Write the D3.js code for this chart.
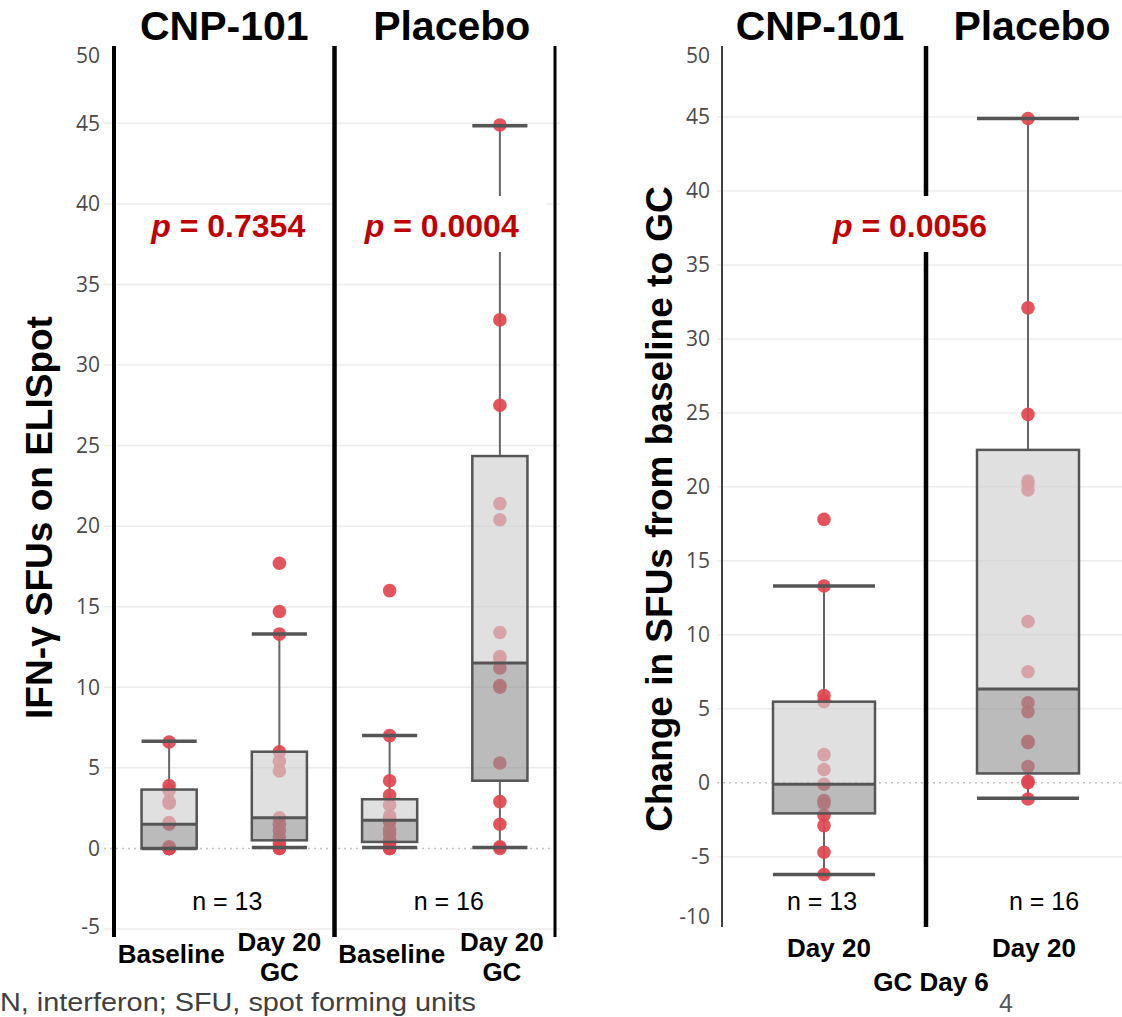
<!DOCTYPE html>
<html>
<head>
<meta charset="utf-8">
<script src="https://cdn.jsdelivr.net/npm/d3@7"></script>
<style>
  body { margin: 0; background: #fff; }
  svg { display: block; font-family: "Liberation Sans", Arial, sans-serif; }
</style>
</head>
<body>
<script>
const W = 1122, H = 1017;
const pointColor = '#e0474f';
const lightFill = 'rgb(208,208,208)'; // q3 -> median
const darkFill = 'rgb(147,147,147)';  // median -> q1
const boxStroke = '#555';

// ---- left chart: SFUs by visit ----
const leftGroups = ['CNP-101', 'Placebo'];
const leftCats = ['cnp_base', 'cnp_d20', 'pbo_base', 'pbo_d20'];
const leftCatLabels = [['Baseline'], ['Day 20', 'GC'], ['Baseline'], ['Day 20', 'GC']];
// [low whisker, q1, median, q3, high whisker]
const leftBoxes = [
  [0, 0, 1.5, 3.65, 6.65],
  [0.05, 0.5, 1.9, 6.0, 13.3],
  [0.05, 0.4, 1.75, 3.05, 7.0],
  [0.05, 4.2, 11.5, 24.35, 44.85]
];
const leftPoints = [
  [6.6, 3.9, 3.6, 2.9, 2.8, 1.6, 1.5, 0.1, 0, 0, 0, 0, 0],
  [17.7, 14.7, 13.3, 6.0, 5.4, 4.8, 1.9, 1.5, 1.1, 0.7, 0.3, 0, 0],
  [16.0, 7.0, 4.2, 3.3, 2.7, 2.0, 1.9, 1.7, 1.7, 1.2, 0.9, 0.5, 0.3, 0, 0, 0],
  [44.9, 32.8, 27.5, 21.4, 20.4, 13.4, 11.9, 11.8, 11.2, 10.1, 10.0, 5.3, 2.9, 1.5, 0.1, 0]
];
const leftN = ['n = 13', 'n = 16'];
const leftP = ['0.7354', '0.0004'];
const leftPBg = [false, true];
const leftTicks = [-5, 0, 5, 10, 15, 20, 25, 30, 35, 40, 45, 50];
const leftTitle = 'IFN-γ SFUs on ELISpot';

// ---- right chart: change from baseline ----
const rightGroups = ['CNP-101', 'Placebo'];
const rightCats = ['cnp_d20', 'pbo_d20'];
const rightCatLabels = [['Day 20'], ['Day 20']];
const rightBoxes = [
  [-6.2, -2.07, -0.1, 5.48, 13.3],
  [-1.05, 0.63, 6.34, 22.5, 44.9]
];
const rightPoints = [
  [17.8, 13.3, 5.9, 5.5, 1.9, 0.9, -0.1, -1.2, -1.4, -2.2, -2.9, -4.7, -6.2],
  [44.9, 32.1, 24.9, 20.4, 20.2, 19.8, 10.9, 7.5, 5.4, 4.8, 2.8, 2.7, 1.1, 0.1, 0.0, -1.1]
];
const rightN = ['n = 13', 'n = 16'];
const rightP = '0.0056';
const rightTicks = [-10, -5, 0, 5, 10, 15, 20, 25, 30, 35, 40, 45, 50];
const rightTitle = 'Change in SFUs from baseline to GC';
const rightXTitle = 'GC Day 6';

const footnote = 'N, interferon; SFU, spot forming units';
const pageNo = '4';

const svg = d3.select('body').append('svg').attr('width', W).attr('height', H);
svg.append('rect').attr('width', W).attr('height', H).attr('fill', '#fff');

// layout of plot areas
const plotTop = 46;
const L = { x0: 114, x1: 555, bottom: 937, gridX0: 104, gridX1: 560 };
const R = { x0: 722, x1: 1130, bottom: 927, gridX0: 717, gridX1: 1122 };

const yL = d3.scaleLinear().domain([-5.5, 49.8]).range([L.bottom, plotTop]);
const yR = d3.scaleLinear().domain([-9.75, 49.8]).range([R.bottom, plotTop]);
const xL = d3.scaleBand().domain(leftCats).range([L.x0, L.x1]);
const xR = d3.scaleBand().domain(rightCats).range([R.x0, R.x1]);

function gridAndTicks(y, ticks, area, labelX) {
  const g = svg.append('g');
  ticks.filter(t => t !== 0 && y(t) >= plotTop && y(t) <= area.bottom + 3).forEach(t => {
    g.append('line').attr('x1', area.gridX0).attr('x2', area.gridX1)
      .attr('y1', y(t)).attr('y2', y(t))
      .attr('stroke', '#ececec').attr('stroke-width', 1.5);
  });
  // dotted zero line
  g.append('line').attr('x1', area.gridX0).attr('x2', area.gridX1)
    .attr('y1', y(0)).attr('y2', y(0))
    .attr('stroke', '#c4c4c4').attr('stroke-width', 1.5).attr('stroke-dasharray', '2,4');
  // tick labels, kept inside the plot area like the original
  ticks.forEach(t => {
    const ty = Math.max(plotTop + 10, Math.min(area.bottom - 10, y(t)));
    g.append('text').attr('x', labelX).attr('y', ty)
      .attr('dy', '0.35em').attr('text-anchor', 'end')
      .style('font-family', '"Open Sans", sans-serif')
      .style('font-size', '21px').attr('fill', '#4a4a4a')
      .text(t);
  });
}

function drawBoxes(x, y, cats, boxes, points) {
  const g = svg.append('g');
  const bw = x.bandwidth() * 0.5;
  cats.forEach((c, i) => {
    const cx = x(c) + x.bandwidth() / 2;
    const [lo, q1, med, q3, hi] = boxes[i];
    // whisker stems
    g.append('line').attr('x1', cx).attr('x2', cx).attr('y1', y(q3)).attr('y2', y(hi))
      .attr('stroke', '#666').attr('stroke-width', 2);
    g.append('line').attr('x1', cx).attr('x2', cx).attr('y1', y(q1)).attr('y2', y(lo))
      .attr('stroke', '#666').attr('stroke-width', 2);
    // points
    g.selectAll(null).data(points[i]).join('circle')
      .attr('cx', cx).attr('cy', d => y(d)).attr('r', 6.8)
      .attr('fill', pointColor).attr('fill-opacity', 0.92);
    // box halves
    g.append('rect').attr('x', cx - bw / 2).attr('width', bw)
      .attr('y', y(q3)).attr('height', y(med) - y(q3))
      .attr('fill', lightFill).attr('fill-opacity', 0.65);
    g.append('rect').attr('x', cx - bw / 2).attr('width', bw)
      .attr('y', y(med)).attr('height', y(q1) - y(med))
      .attr('fill', darkFill).attr('fill-opacity', 0.63);
    g.append('rect').attr('x', cx - bw / 2).attr('width', bw)
      .attr('y', y(q3)).attr('height', y(q1) - y(q3))
      .attr('fill', 'none').attr('stroke', boxStroke).attr('stroke-width', 2.5);
    // median and caps
    [med, lo, hi].forEach((v, k) => {
      g.append('line').attr('x1', cx - bw / 2).attr('x2', cx + bw / 2)
        .attr('y1', y(v)).attr('y2', y(v))
        .attr('stroke', boxStroke).attr('stroke-width', k === 0 ? 3 : 3.5);
    });
  });
}

function vline(x, y1, y2, w) {
  svg.append('line').attr('x1', x).attr('x2', x).attr('y1', y1).attr('y2', y2)
    .attr('stroke', '#000').attr('stroke-width', w);
}

function pLabel(cx, baseline, value, bg) {
  const g = svg.append('g');
  const t = g.append('text').attr('x', cx).attr('y', baseline).attr('text-anchor', 'middle')
    .style('font-size', '32px').style('font-weight', 'bold').attr('fill', '#c00000');
  t.append('tspan').style('font-style', 'italic').text('p');
  t.append('tspan').text(' = ' + value);
  if (bg) {
    const b = t.node().getBBox();
    g.insert('rect', 'text').attr('x', b.x - 28).attr('y', b.y - 12)
      .attr('width', b.width + 56).attr('height', b.height + 20).attr('fill', '#fff');
  }
}

function catLabels(x, cats, labels, nudges, firstBaseline) {
  cats.forEach((c, i) => {
    const cx = x(c) + x.bandwidth() / 2 + nudges[i];
    const lines = labels[i];
    const y0 = lines.length > 1 ? firstBaseline - 12 : firstBaseline;
    lines.forEach((s, k) => {
      svg.append('text').attr('text-anchor', 'middle')
        .style('font-size', '26px').style('font-weight', 'bold').attr('fill', '#000')
        .attr('x', cx).attr('y', y0 + k * 30).text(s);
    });
  });
}

// ---------- left chart ----------
gridAndTicks(yL, leftTicks, L, 100);
drawBoxes(xL, yL, leftCats, leftBoxes, leftPoints);
const lBounds = [L.x0, xL(leftCats[2]), L.x1];

leftGroups.forEach((name, i) => {
  const gc = (lBounds[i] + lBounds[i + 1]) / 2;
  svg.append('text').attr('x', gc + (i ? 7 : 0)).attr('y', 40).attr('text-anchor', 'middle')
    .style('font-size', '41px').style('font-weight', 'bold').text(name);
  pLabel(gc + (i ? -3 : 4), 237, leftP[i], leftPBg[i]);
  svg.append('text').attr('x', gc + (i ? 4 : 3)).attr('y', 910).attr('text-anchor', 'middle')
    .style('font-size', '25px').text(leftN[i]);
});
// panel borders drawn over the p-value backgrounds
vline(lBounds[0], plotTop, L.bottom, 4);
vline(lBounds[1], plotTop, L.bottom, 4.5);
vline(lBounds[2], plotTop, L.bottom, 3);
catLabels(xL, leftCats, leftCatLabels, [2, 0, 2, 2], 963);

svg.append('text').attr('transform', `translate(52,${(plotTop + L.bottom) / 2 + 26}) rotate(-90)`)
  .attr('text-anchor', 'middle').style('font-size', '37px').style('font-weight', 'bold')
  .text(leftTitle);

// ---------- right chart ----------
gridAndTicks(yR, rightTicks, R, 710);
drawBoxes(xR, yR, rightCats, rightBoxes, rightPoints);
vline(R.x0, plotTop, R.bottom, 1.5);
vline(xR(rightCats[1]), plotTop, R.bottom, 4.5);

rightGroups.forEach((name, i) => {
  const cx = xR(rightCats[i]) + xR.bandwidth() / 2;
  svg.append('text').attr('x', cx + (i ? 4 : -4)).attr('y', 40).attr('text-anchor', 'middle')
    .style('font-size', '41px').style('font-weight', 'bold').text(name);
  svg.append('text').attr('x', cx + (i ? 16 : -2)).attr('y', 910).attr('text-anchor', 'middle')
    .style('font-size', '25px').text(rightN[i]);
});
// this one hides the separator behind it
pLabel(xR(rightCats[1]) - 16, 237, rightP, true);
catLabels(xR, rightCats, rightCatLabels, [5, 6], 957);
svg.append('text').attr('x', xR(rightCats[1]) + 5).attr('y', 991).attr('text-anchor', 'middle')
  .style('font-size', '26px').style('font-weight', 'bold').text(rightXTitle);

svg.append('text').attr('transform', `translate(672,509) rotate(-90)`)
  .attr('text-anchor', 'middle').style('font-size', '37px').style('font-weight', 'bold')
  .text(rightTitle);

// ---------- footer ----------
svg.append('text').attr('x', 0).attr('y', 1011)
  .attr('textLength', 476).attr('lengthAdjust', 'spacingAndGlyphs')
  .style('font-size', '26px').attr('fill', '#404040').text(footnote);
svg.append('text').attr('x', 1006).attr('y', 1012).attr('text-anchor', 'middle')
  .style('font-size', '25px').attr('fill', '#555').text(pageNo);
</script>
</body>
</html>
